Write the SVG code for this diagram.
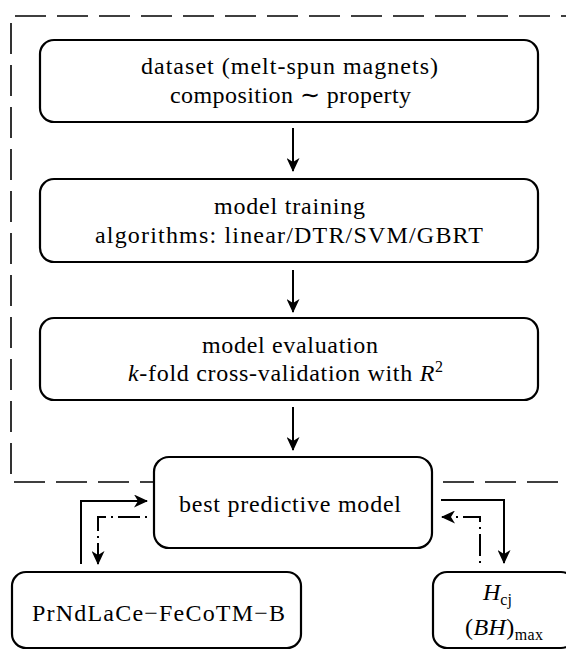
<svg xmlns="http://www.w3.org/2000/svg" width="566" height="650" viewBox="0 0 566 650">
<style>
.box{fill:#fff;stroke:#000;stroke-width:2.2}
.t{font-family:"Liberation Serif","Times New Roman",serif;font-size:24px;fill:#000}
.i{font-style:italic}
.s{font-size:16px}
.frame{fill:none;stroke:#000;stroke-width:1.6;stroke-dasharray:31 11}
.c{fill:none;stroke:#000;stroke-width:2}
.dd{stroke-dasharray:22 5 2 5;stroke-dashoffset:27}
</style>
<defs>
<marker id="ah" viewBox="0 0 14 13" refX="13" refY="6.5" markerWidth="14" markerHeight="13" markerUnits="userSpaceOnUse" orient="auto">
<path d="M0,0 L14,6.5 L0,13 L4,6.5 z" fill="#000"/>
</marker>
</defs>
<g id="frame">
<path class="frame" d="M154 482 H11 V16 H600" stroke-dashoffset="17"/>
<path class="frame" d="M443 482 H600"/>
</g>
<g id="connectors">
<path class="c" d="M293 128 V171" marker-end="url(#ah)"/>
<path class="c" d="M293 270 V312" marker-end="url(#ah)"/>
<path class="c" d="M293 407 V450" marker-end="url(#ah)"/>
<path class="c" d="M81 564 V501 H147" marker-end="url(#ah)"/>
<path class="c dd" d="M147 517 H98 V564" marker-end="url(#ah)"/>
<path class="c" d="M441 500 H504 V563" marker-end="url(#ah)"/>
<path class="c dd" d="M480 563 V517 H442" marker-end="url(#ah)"/>
</g>
<g id="dataset">
<rect class="box" x="40" y="40" width="498" height="82" rx="14"/>
<text class="t" x="141" y="74" textLength="297">dataset (melt-spun magnets)</text>
<text class="t" x="170" y="103" textLength="241">composition ∼ property</text>
</g>
<g id="training">
<rect class="box" x="40" y="179" width="498" height="83" rx="14"/>
<text class="t" x="214" y="214" textLength="151">model training</text>
<text class="t" x="95" y="243" textLength="388">algorithms: linear/DTR/SVM/GBRT</text>
</g>
<g id="evaluation">
<rect class="box" x="40" y="318" width="498" height="82" rx="14"/>
<text class="t" x="202" y="353" textLength="176">model evaluation</text>
<text class="t" x="128" y="381" textLength="315"><tspan class="i">k</tspan>-fold cross-validation with <tspan class="i">R</tspan><tspan class="s" dy="-9">2</tspan></text>
</g>
<g id="best">
<rect class="box" x="154" y="457" width="278" height="91" rx="15"/>
<text class="t" x="179" y="512" textLength="222">best predictive model</text>
</g>
<g id="composition">
<rect class="box" x="12" y="572" width="289" height="76" rx="14"/>
<text class="t" x="32" y="621" textLength="253">PrNdLaCe−FeCoTM−B</text>
</g>
<g id="properties">
<rect class="box" x="433" y="572" width="142" height="76" rx="14"/>
<text class="t" x="483" y="600"><tspan class="i">H</tspan><tspan class="s" dy="5">cj</tspan></text>
<text class="t" x="465" y="635" textLength="78">(<tspan class="i">BH</tspan>)<tspan class="s" dy="5">max</tspan></text>
</g>
</svg>
